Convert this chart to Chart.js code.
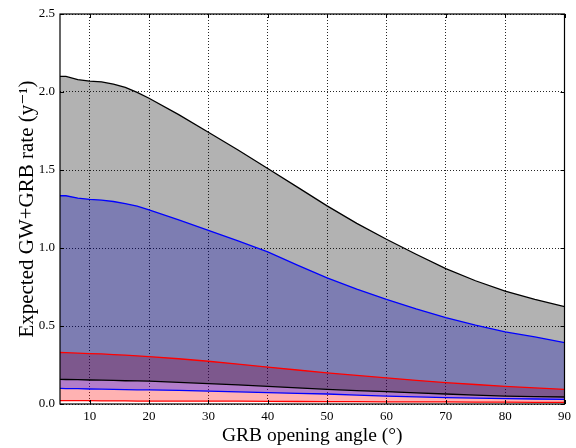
<!DOCTYPE html>
<html lang="en">
<head>
<meta charset="UTF-8">
<title>GW+GRB rate</title>
<script src="https://cdn.jsdelivr.net/npm/chart.js"></script>
<style>
  html, body { margin: 0; padding: 0; background: #fff; }
  #wrap { width: 576px; height: 448px; }
</style>
</head>
<body>
<div id="wrap"><canvas id="rateChart" width="576" height="448"></canvas></div>
<script>
const angles = [5, 6, 8, 10, 12, 14, 16, 18, 20, 25, 30, 35, 40, 45, 50, 55, 60, 65, 70, 75, 80, 85, 90];

// upper curves
const blackUpper = [2.10, 2.10, 2.08, 2.07, 2.065, 2.05, 2.03, 1.998, 1.96, 1.855, 1.742, 1.628, 1.51, 1.39, 1.27, 1.158, 1.056, 0.96, 0.868, 0.79, 0.724, 0.67, 0.624];
const blueUpper  = [1.335, 1.335, 1.32, 1.312, 1.307, 1.298, 1.285, 1.268, 1.245, 1.18, 1.113, 1.045, 0.975, 0.89, 0.808, 0.737, 0.671, 0.61, 0.554, 0.505, 0.462, 0.43, 0.394];
const redUpper   = [0.330, 0.329, 0.326, 0.323, 0.321, 0.317, 0.313, 0.309, 0.304, 0.29, 0.274, 0.256, 0.237, 0.218, 0.199, 0.183, 0.167, 0.152, 0.137, 0.125, 0.113, 0.103, 0.094];

// lower curves
const blackLower = [0.158, 0.157, 0.156, 0.154, 0.153, 0.151, 0.149, 0.148, 0.146, 0.139, 0.131, 0.122, 0.113, 0.103, 0.094, 0.086, 0.079, 0.071, 0.064, 0.057, 0.051, 0.047, 0.045];
const blueLower  = [0.100, 0.099, 0.098, 0.096, 0.095, 0.094, 0.092, 0.091, 0.090, 0.087, 0.083, 0.078, 0.073, 0.068, 0.064, 0.057, 0.051, 0.046, 0.041, 0.038, 0.035, 0.032, 0.030];
const redLower   = [0.022, 0.022, 0.021, 0.021, 0.020, 0.020, 0.020, 0.019, 0.019, 0.019, 0.018, 0.018, 0.017, 0.016, 0.015, 0.015, 0.014, 0.013, 0.013, 0.012, 0.012, 0.011, 0.011];

const xTicks = [10, 20, 30, 40, 50, 60, 70, 80, 90];
const yTicks = [0, 0.5, 1.0, 1.5, 2.0, 2.5];

const serif = '"Liberation Serif", "DejaVu Serif", serif';

function pts(vals) {
  return vals.map((v, i) => ({ x: angles[i], y: v }));
}

function line(vals, color, fill) {
  return {
    data: pts(vals),
    borderColor: color,
    borderWidth: 1.3,
    pointRadius: 0,
    tension: 0,
    fill: fill
  };
}

// frame on all four sides + inward tick marks (matplotlib classic look)
const framePlugin = {
  id: 'frame',
  afterDraw(chart) {
    const { ctx, chartArea: { left, right, top, bottom }, scales: { x, y } } = chart;
    ctx.save();
    ctx.strokeStyle = '#000';
    ctx.lineWidth = 1;
    ctx.beginPath();
    x.ticks.forEach(t => {
      const px = Math.round(x.getPixelForValue(t.value)) + 0.5;
      ctx.moveTo(px, bottom); ctx.lineTo(px, bottom - 4);
      ctx.moveTo(px, top); ctx.lineTo(px, top + 4);
    });
    y.ticks.forEach(t => {
      const py = Math.round(y.getPixelForValue(t.value)) + 0.5;
      ctx.moveTo(left, py); ctx.lineTo(left + 4, py);
      ctx.moveTo(right, py); ctx.lineTo(right - 4, py);
    });
    ctx.stroke();
    ctx.lineWidth = 1.2;
    ctx.strokeRect(left, top, right - left, bottom - top);
    ctx.restore();
  }
};

const ctx = document.getElementById('rateChart').getContext('2d');
new Chart(ctx, {
  type: 'line',
  data: {
    datasets: [
      line(blackUpper, '#000000', { target: 3, above: 'rgba(0,0,0,0.3)', below: 'rgba(0,0,0,0.3)' }),
      line(blueUpper, '#0000ff', { target: 4, above: 'rgba(0,0,255,0.3)', below: 'rgba(0,0,255,0.3)' }),
      line(redUpper, '#ff0000', { target: 5, above: 'rgba(255,0,0,0.3)', below: 'rgba(255,0,0,0.3)' }),
      line(blackLower, '#000000', false),
      line(blueLower, '#0000ff', false),
      line(redLower, '#ff0000', false)
    ]
  },
  options: {
    responsive: false,
    animation: false,
    layout: { padding: { left: 0, right: 10, top: 14, bottom: 0 } },
    plugins: {
      legend: { display: false },
      tooltip: { enabled: false },
      filler: { drawTime: 'beforeDatasetsDraw' }
    },
    scales: {
      x: {
        type: 'linear',
        min: 5,
        max: 90,
        afterBuildTicks: s => { s.ticks = xTicks.map(v => ({ value: v })); },
        afterFit: s => { s.height = 44; },
        ticks: { color: '#000', font: { family: serif, size: 13 }, padding: 5, maxRotation: 0 },
        grid: { color: 'rgba(0,0,0,0.85)', lineWidth: 1, drawTicks: false },
        border: { display: false, dash: [1, 2] },
        title: {
          display: true,
          text: 'GRB opening angle (°)',
          color: '#000',
          font: { family: serif, size: 19.5 },
          padding: { top: 0, bottom: 0 }
        }
      },
      y: {
        min: 0,
        max: 2.5,
        afterBuildTicks: s => { s.ticks = yTicks.map(v => ({ value: v })); },
        afterFit: s => { s.width = 60; },
        ticks: { color: '#000', font: { family: serif, size: 13 }, padding: 5, callback: v => v.toFixed(1) },
        grid: { color: 'rgba(0,0,0,0.85)', lineWidth: 1, drawTicks: false },
        border: { display: false, dash: [1, 2] },
        title: {
          display: true,
          text: 'Expected GW+GRB rate (y⁻¹)',
          color: '#000',
          font: { family: serif, size: 21 },
          padding: { top: 15, bottom: 0 }
        }
      }
    }
  },
  plugins: [framePlugin]
});
</script>
</body>
</html>
